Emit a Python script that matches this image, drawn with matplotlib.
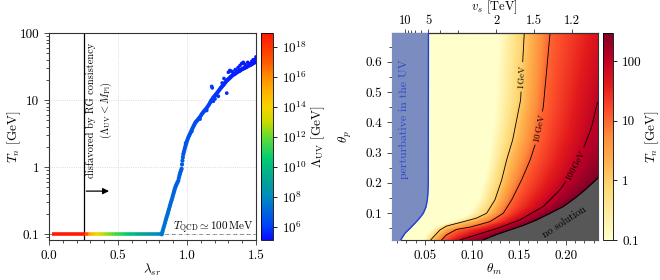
import matplotlib
matplotlib.use("Agg")
import numpy as np
import matplotlib.pyplot as plt
from matplotlib.cm import ScalarMappable
from matplotlib.collections import LineCollection
from matplotlib.colors import LinearSegmentedColormap, LogNorm
from matplotlib.ticker import FixedLocator, LogLocator, MultipleLocator

plt.rcParams.update({
    "font.family": "serif",
    "font.serif": ["cmr10"],
    "mathtext.fontset": "cm",
    "axes.formatter.use_mathtext": True,
    "axes.unicode_minus": False,
    "font.size": 9.5,
})

# ---- left panel: T_n vs lambda_sr, coloured by log10(Lambda_UV / GeV)
lam_flat = [0.02, 0.04, 0.06, 0.08, 0.10, 0.12, 0.14, 0.16, 0.18, 0.20, 0.22, 0.24,
            0.26, 0.28, 0.30, 0.32, 0.34, 0.36, 0.38, 0.40, 0.42, 0.44, 0.46, 0.48,
            0.50, 0.52, 0.54, 0.56, 0.58, 0.60, 0.62, 0.64, 0.66, 0.68, 0.70, 0.72,
            0.74, 0.76, 0.78, 0.80, 0.82]
uv_flat = [19.5, 19.5, 19.5, 19.5, 19.5, 19.5, 19.5, 19.5, 19.5, 19.5, 19.5, 19.5,
           17.0, 15.8, 14.9, 14.3, 13.8, 13.3, 12.9, 12.6, 12.3, 12.0, 11.7, 11.4,
           11.2, 11.0, 10.7, 10.4, 10.1, 9.9, 9.6, 9.4, 9.2, 9.0, 8.8, 8.6,
           8.4, 8.2, 8.0, 7.8, 7.6]
t_qcd = 0.1

lam_rise = [0.817, 0.821, 0.825, 0.830, 0.835, 0.840, 0.845, 0.849, 0.853, 0.858,
            0.862, 0.866, 0.870, 0.875, 0.879, 0.884, 0.889, 0.894, 0.898, 0.903,
            0.907, 0.911, 0.915, 0.920, 0.925, 0.931, 0.937, 0.941, 0.945, 0.949,
            0.953, 0.957, 0.961, 0.964, 0.967, 0.970, 0.973, 0.977, 0.981, 0.985,
            0.990, 0.995, 1.000, 1.005, 1.010, 1.016, 1.022, 1.028, 1.035, 1.041,
            1.048, 1.054, 1.060, 1.067, 1.075, 1.084, 1.094, 1.102, 1.110, 1.118,
            1.125, 1.134, 1.143, 1.151, 1.160, 1.168, 1.175, 1.183, 1.190, 1.198,
            1.205, 1.210, 1.215, 1.222, 1.230, 1.238, 1.245, 1.252, 1.260, 1.268,
            1.275, 1.282, 1.288, 1.294, 1.300, 1.308, 1.315, 1.322, 1.330, 1.338,
            1.345, 1.352, 1.360, 1.368, 1.375, 1.380, 1.384, 1.392, 1.400, 1.408,
            1.415, 1.422, 1.430, 1.438, 1.445, 1.452, 1.460, 1.468, 1.475, 1.482,
            1.490, 1.497, 1.504]
tn_rise = [0.100, 0.107, 0.115, 0.125, 0.135, 0.147, 0.160, 0.171, 0.183, 0.196,
           0.210, 0.225, 0.240, 0.260, 0.280, 0.302, 0.325, 0.352, 0.380, 0.410,
           0.440, 0.470, 0.500, 0.530, 0.560, 0.595, 0.630, 0.690, 0.750, 0.800,
           0.850, 0.900, 0.950, 1.100, 1.250, 1.400, 1.550, 1.670, 1.800, 1.950,
           2.100, 2.270, 2.450, 2.620, 2.800, 2.970, 3.150, 3.370, 3.600, 3.850,
           4.100, 4.350, 4.600, 4.800, 5.000, 5.300, 5.600, 5.950, 6.300, 6.600,
           6.900, 7.250, 7.600, 8.100, 8.600, 9.200, 9.800, 10.30, 10.90, 11.30,
           11.80, 12.10, 12.50, 13.10, 13.80, 14.50, 15.20, 15.80, 16.50, 17.20,
           18.00, 18.80, 19.50, 20.00, 20.50, 21.20, 22.00, 22.70, 23.50, 24.00,
           24.50, 25.10, 25.80, 26.40, 27.00, 27.30, 27.60, 28.30, 29.00, 29.50,
           30.00, 30.50, 31.00, 31.80, 32.50, 33.00, 33.50, 34.20, 35.00, 35.70,
           36.50, 37.20, 38.00]
# points sitting off the main band
lam_off = [0.990, 1.035, 1.094, 1.143, 1.179, 1.183, 1.191, 1.203, 1.227, 1.255,
           1.268, 1.288, 1.300, 1.310, 1.320, 1.330, 1.350, 1.370, 1.384, 1.396,
           1.408, 1.420, 1.440, 1.457, 1.470, 1.480, 1.493, 1.500, 1.505]
tn_off = [2.30, 3.40, 5.20, 7.00, 16.0, 15.2, 9.6, 10.4, 11.4, 18.0,
          21.0, 12.7, 26.0, 27.6, 27.0, 26.5, 28.5, 30.5, 32.7, 35.0,
          36.5, 34.0, 36.5, 35.0, 38.0, 40.0, 40.0, 44.0, 41.0]
# log10(Lambda_UV / GeV) along the rising branch
lam_uv_rise = [0.82, 0.90, 1.00, 1.10, 1.20, 1.30, 1.40, 1.50]
uv_rise = [7.4, 7.0, 6.6, 6.2, 5.9, 5.6, 5.4, 5.3]

rg_bound = 0.25
uv_ticks = [6, 8, 10, 12, 14, 16, 18]

uv_colors = [
    (0.000, (0.04, 0.04, 1.00)), (0.065, (0.00, 0.25, 0.98)),
    (0.210, (0.00, 0.55, 0.75)), (0.280, (0.00, 0.63, 0.60)),
    (0.390, (0.00, 0.80, 0.45)), (0.500, (0.40, 0.86, 0.20)),
    (0.570, (0.78, 0.86, 0.00)), (0.645, (0.98, 0.82, 0.00)),
    (0.717, (1.00, 0.70, 0.00)), (0.790, (1.00, 0.55, 0.00)),
    (0.862, (1.00, 0.35, 0.00)), (0.935, (1.00, 0.20, 0.00)),
    (1.000, (1.00, 0.10, 0.00)),
]

edge_p = [0.0, 0.012, 0.030, 0.045, 0.060, 0.080, 0.100, 0.150, 0.250, 0.400, 0.700]
edge_m = [0.046, 0.048, 0.052, 0.056, 0.064, 0.085, 0.098, 0.108, 0.117, 0.124, 0.130]
c1_p = [0.0, 0.012, 0.045, 0.058, 0.072, 0.084, 0.100, 0.144, 0.210, 0.275, 0.342, 0.474, 0.700]
c1_m = [0.054, 0.0561, 0.066, 0.0731, 0.0908, 0.1051, 0.1158, 0.1246, 0.1318, 0.137, 0.1435, 0.152, 0.156]
c10_p = [0.0, 0.012, 0.029, 0.047, 0.054, 0.072, 0.100, 0.144, 0.210, 0.275, 0.341, 0.451, 0.700]
c10_m = [0.066, 0.0678, 0.073, 0.0838, 0.098, 0.1193, 0.1335, 0.1424, 0.153, 0.162, 0.169, 0.1761, 0.1835]
c100_p = [0.0, 0.012, 0.029, 0.049, 0.078, 0.122, 0.177, 0.232, 0.286, 0.341, 0.385, 0.467, 0.700]
c100_m = [0.083, 0.0873, 0.1051, 0.1264, 0.1513, 0.1761, 0.1939, 0.2064, 0.2152, 0.2224, 0.2277, 0.234, 0.255]
nos_p = [0.0, 0.012, 0.030, 0.045, 0.060, 0.078, 0.100, 0.122, 0.150, 0.177, 0.215, 0.300, 0.700]
nos_m = [0.108, 0.1122, 0.1265, 0.1406, 0.155, 0.169, 0.1835, 0.1974, 0.2100, 0.2206, 0.234, 0.255, 0.320]
level_logT = [-1.0, 0.0, 1.0, 2.0, 2.5]

pert_p = [0.0, 0.012, 0.034, 0.050, 0.067, 0.083, 0.100, 0.120, 0.144, 0.170, 0.200, 0.700]
pert_m = [0.021, 0.0241, 0.0287, 0.034, 0.0393, 0.044, 0.0482, 0.051, 0.0525, 0.0532, 0.0535, 0.0537]

vs_ticks = [10, 5, 2, 1.5, 1.2]
vs_minor = [9, 8, 7, 6, 4, 3]
# theta_m = VS_A / v_s + VS_B
VS_A, VS_B = 0.2424, 0.0049


def style_axes(ax):
    for s in ax.spines.values():
        s.set_linewidth(0.8)
        s.set_color("0.2")
    ax.tick_params(which="both", direction="out", width=0.6, color="0.2")
    ax.tick_params(which="major", length=3.5)
    ax.tick_params(which="minor", length=2)


def draw_left(fig, ax, cax):
    cmap = LinearSegmentedColormap.from_list("uv", uv_colors)
    norm = LogNorm(10 ** 5.1, 10 ** 18.9)

    ax.set_yscale("log")
    ax.set_xlim(0, 1.5)
    ax.set_ylim(0.0822, 100)
    ax.grid(True, which="major", ls=":", lw=0.6, color="0.82", zorder=0)
    ax.axhline(t_qcd, color="0.45", ls=(0, (4, 3)), lw=0.7, zorder=1)

    pts = np.column_stack([lam_flat, np.full(len(lam_flat), t_qcd)])
    segs = np.stack([pts[:-1], pts[1:]], axis=1)
    lc = LineCollection(segs, cmap=cmap, norm=norm, linewidths=2.6, capstyle="butt", zorder=3)
    lc.set_array(10 ** np.asarray(uv_flat[:-1]))
    ax.add_collection(lc)

    for lam, tn, s in [(lam_rise, tn_rise, 9), (lam_off, tn_off, 7)]:
        uv = 10 ** np.interp(lam, lam_uv_rise, uv_rise)
        ax.scatter(lam, tn, c=uv, cmap=cmap, norm=norm, s=s, linewidths=0, zorder=3)

    ax.axvline(rg_bound, color="k", lw=0.9, zorder=2)
    ax.text(0.37, 7.0, "disfavored by RG consistency\n$(\\Lambda_{\\rm UV} < M_{\\rm Pl})$",
            rotation=90, ha="center", va="center", multialignment="center", fontsize=7.5)
    ax.annotate("", xy=(0.455, 0.44), xytext=(rg_bound, 0.44),
                arrowprops=dict(arrowstyle="-|>", color="k", lw=0.9, mutation_scale=9))
    ax.text(1.485, 0.115, r"$T_{\rm QCD} \simeq 100\,{\rm MeV}$", ha="right", va="baseline",
            fontsize=8)

    ax.set_xticks([0, 0.5, 1.0, 1.5], labels=["0.0", "0.5", "1.0", "1.5"])
    ax.xaxis.set_minor_locator(MultipleLocator(0.1))
    ax.set_yticks([0.1, 1, 10, 100], labels=["0.1", "1", "10", "100"])
    ax.yaxis.set_minor_locator(LogLocator(subs=np.arange(2, 10)))
    ax.set_xlabel(r"$\lambda_{sr}$")
    ax.set_ylabel(r"$T_n$ [GeV]")
    ax.xaxis.set_label_coords(0.5, -0.105)
    ax.yaxis.set_label_coords(-0.125, 0.5)
    style_axes(ax)

    cb = fig.colorbar(ScalarMappable(norm=norm, cmap=cmap), cax=cax)
    cb.set_ticks([10.0 ** k for k in uv_ticks], labels=[f"$10^{{{k}}}$" for k in uv_ticks])
    cb.minorticks_off()
    cb.outline.set_linewidth(0.6)
    cb.ax.tick_params(length=3, width=0.6)
    cb.set_label(r"$\Lambda_{\rm UV}$ [GeV]", labelpad=2)


def draw_right(fig, ax, cax):
    norm = LogNorm(0.1, 300)
    th_m = np.linspace(0.0143, 0.234, 440)
    th_p = np.linspace(0.01, 0.695, 360)
    logT = np.empty((th_p.size, th_m.size))
    curves = [(edge_p, edge_m), (c1_p, c1_m), (c10_p, c10_m), (c100_p, c100_m), (nos_p, nos_m)]
    for i, p in enumerate(th_p):
        xs = [np.interp(p, cp, cm) for cp, cm in curves]
        logT[i] = np.interp(th_m, xs, level_logT)

    ax.pcolormesh(th_m, th_p, 10 ** logT, cmap="YlOrRd", norm=norm, shading="gouraud",
                  rasterized=True, zorder=0)
    cs = ax.contour(th_m, th_p, logT, levels=[0.0, 1.0, 2.0], colors="k", linewidths=0.6, zorder=1)
    ax.clabel(cs, fmt={0.0: r"$1\,$GeV", 1.0: r"$10\,$GeV", 2.0: r"$100\,$GeV"}, fontsize=6.5,
              inline=True, inline_spacing=2,
              manual=[(0.154, 0.55), (0.1725, 0.38), (0.211, 0.259)])

    ax.fill_betweenx(pert_p, 0, pert_m, color="#7b8cc1", lw=0, zorder=3)
    ax.plot(pert_m, pert_p, color="#2040d8", lw=1.0, zorder=4)
    ax.fill_betweenx(nos_p, nos_m, 0.3, color="#575757", lw=0, zorder=3)
    ax.plot(nos_m, nos_p, color="k", lw=0.8, zorder=4)

    ax.text(0.028, 0.41, "perturbative in the UV", rotation=90, ha="center", va="center",
            color="#2a48c8", fontsize=8.5, zorder=5)
    ax.text(0.199, 0.072, "no solution", rotation=33, ha="center", va="center",
            color="k", fontsize=7.5, zorder=5)

    ax.set_xlim(0.0143, 0.234)
    ax.set_ylim(0.0115, 0.695)
    ax.set_xticks([0.05, 0.10, 0.15, 0.20], labels=["0.05", "0.10", "0.15", "0.20"])
    ax.xaxis.set_minor_locator(MultipleLocator(0.01))
    ax.set_yticks([0.1, 0.2, 0.3, 0.4, 0.5, 0.6], labels=["0.1", "0.2", "0.3", "0.4", "0.5", "0.6"])
    ax.yaxis.set_minor_locator(MultipleLocator(0.05))
    ax.set_xlabel(r"$\theta_m$")
    ax.set_ylabel(r"$\theta_p$")
    ax.xaxis.set_label_coords(0.5, -0.105)
    ax.yaxis.set_label_coords(-0.18, 0.5)
    style_axes(ax)

    top = ax.secondary_xaxis("top", functions=(lambda t: VS_A / (t - VS_B),
                                               lambda v: VS_A / v + VS_B))
    top.set_xticks(vs_ticks, labels=["10", "5", "2", "1.5", "1.2"])
    top.xaxis.set_minor_locator(FixedLocator(vs_minor))
    top.tick_params(which="both", direction="out", width=0.6, color="0.2", pad=1, labelsize=9)
    top.tick_params(which="major", length=3)
    top.tick_params(which="minor", length=2)
    top.spines["top"].set_linewidth(0.8)
    top.set_xlabel(r"$v_s$ [TeV]", labelpad=3.5, fontsize=9)

    cb = fig.colorbar(ScalarMappable(norm=norm, cmap="YlOrRd"), cax=cax)
    cb.set_ticks([0.1, 1, 10, 100], labels=["0.1", "1", "10", "100"])
    cb.minorticks_off()
    cb.outline.set_linewidth(0.6)
    cb.ax.tick_params(length=3, width=0.6)
    cb.set_label(r"$T_n$ [GeV]", labelpad=1)


def main():
    fig = plt.figure(figsize=(6.6, 2.8), dpi=100)
    ax1 = fig.add_axes([49 / 660, 40 / 280, 207 / 660, 207 / 280])
    cax1 = fig.add_axes([261 / 660, 40 / 280, 12 / 660, 207 / 280])
    ax2 = fig.add_axes([391.5 / 660, 40 / 280, 206 / 660, 207 / 280])
    cax2 = fig.add_axes([603 / 660, 40 / 280, 10 / 660, 207 / 280])
    draw_left(fig, ax1, cax1)
    draw_right(fig, ax2, cax2)
    fig.savefig("out.png", dpi=100)


if __name__ == "__main__":
    main()
